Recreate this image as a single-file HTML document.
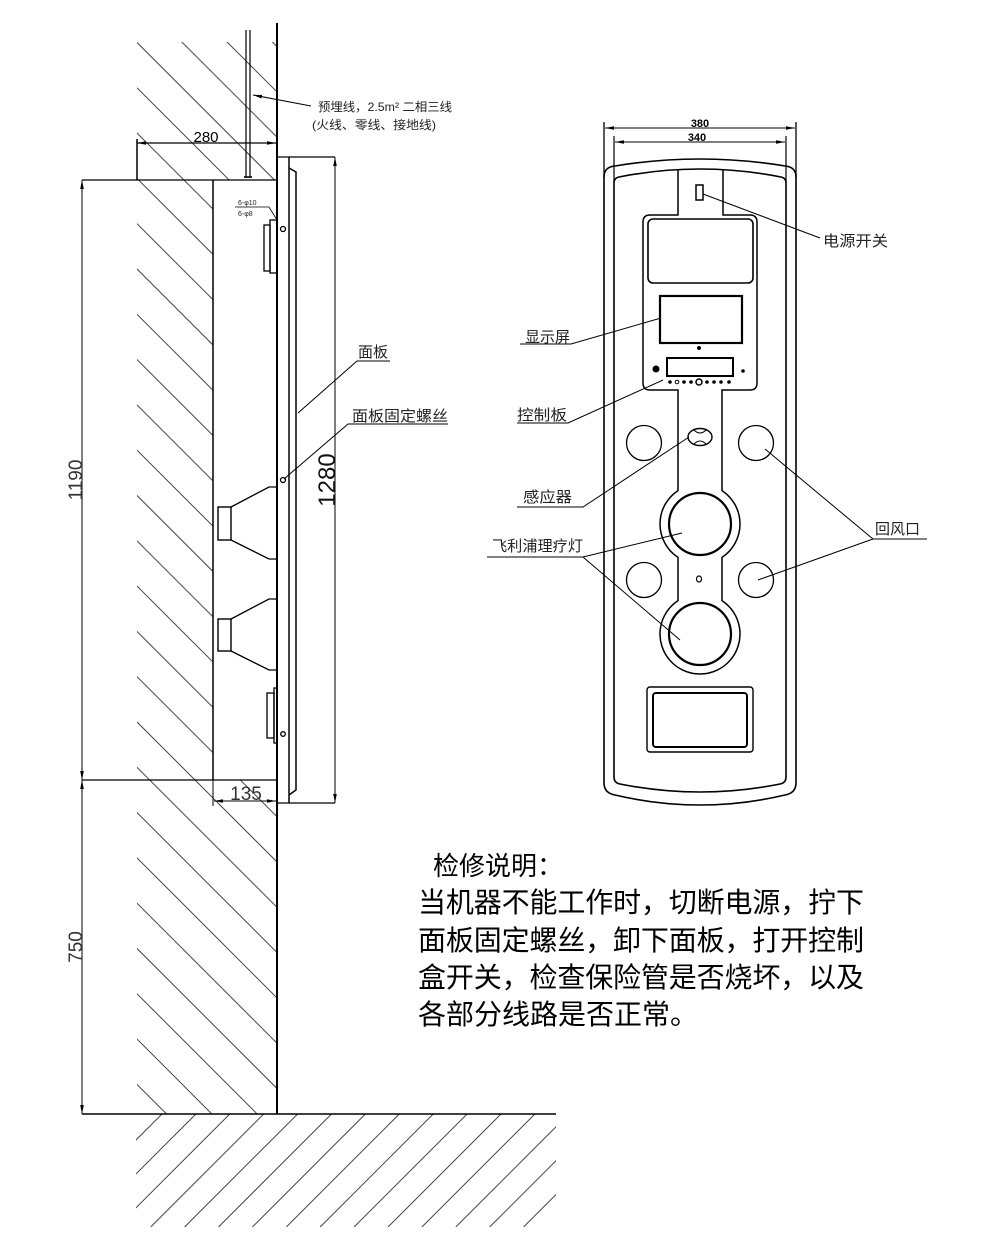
<!DOCTYPE html>
<html><head><meta charset="utf-8"><style>
html,body{margin:0;padding:0;background:#fff;width:1000px;height:1250px;overflow:hidden;}
svg{display:block;}
.cjk{font-family:"Liberation Sans","Noto Sans CJK SC",sans-serif;}
.num{font-family:"Liberation Sans",sans-serif;}
</style></head><body>
<svg width="1000" height="1250" viewBox="0 0 1000 1250" xmlns="http://www.w3.org/2000/svg" overflow="hidden">
<defs>
<marker id="ar" viewBox="0 0 10 4" refX="10" refY="2" markerWidth="9" markerHeight="3.6" markerUnits="userSpaceOnUse" orient="auto-start-reverse"><path d="M0,0 L10,2 L0,4z" fill="#000"/></marker>
<clipPath id="cw"><path d="M137,42 H277 V180 H213 V780 H277 V1114 H137 Z"/></clipPath>
<clipPath id="cf"><rect x="136" y="1114" width="420" height="113"/></clipPath>
</defs>
<rect width="1000" height="1250" fill="#fff"/>

<!-- wall hatch -->
<g clip-path="url(#cw)" stroke="#444" stroke-width="1">
<line x1="260" y1="29.6" x2="280" y2="49.6"/>
<line x1="220" y1="34.9" x2="280" y2="94.9"/>
<line x1="175" y1="35.2" x2="280" y2="140.2"/>
<line x1="130" y1="35.5" x2="280" y2="185.5"/>
<line x1="130" y1="80.8" x2="280" y2="230.8"/>
<line x1="130" y1="126.1" x2="280" y2="276.1"/>
<line x1="130" y1="171.4" x2="280" y2="321.4"/>
<line x1="130" y1="216.7" x2="280" y2="366.7"/>
<line x1="130" y1="262" x2="280" y2="412"/>
<line x1="130" y1="307.3" x2="280" y2="457.3"/>
<line x1="130" y1="352.6" x2="280" y2="502.6"/>
<line x1="130" y1="397.9" x2="280" y2="547.9"/>
<line x1="130" y1="443.2" x2="280" y2="593.2"/>
<line x1="130" y1="488.5" x2="280" y2="638.5"/>
<line x1="130" y1="533.8" x2="280" y2="683.8"/>
<line x1="130" y1="579.1" x2="280" y2="729.1"/>
<line x1="130" y1="624.4" x2="280" y2="774.4"/>
<line x1="130" y1="669.7" x2="280" y2="819.7"/>
<line x1="130" y1="715" x2="280" y2="865"/>
<line x1="130" y1="760.3" x2="280" y2="910.3"/>
<line x1="130" y1="805.6" x2="280" y2="955.6"/>
<line x1="130" y1="850.9" x2="280" y2="1000.9"/>
<line x1="130" y1="896.2" x2="280" y2="1046.2"/>
<line x1="130" y1="941.5" x2="280" y2="1091.5"/>
<line x1="130" y1="986.8" x2="257" y2="1113.8"/>
<line x1="130" y1="1032.1" x2="212" y2="1114.1"/>
<line x1="130" y1="1077.4" x2="167" y2="1114.4"/>
</g>

<!-- floor hatch -->
<g clip-path="url(#cf)" stroke="#444" stroke-width="1">
<line x1="49" y1="1227" x2="162" y2="1114"/>
<line x1="82.9" y1="1227" x2="195.9" y2="1114"/>
<line x1="116.8" y1="1227" x2="229.8" y2="1114"/>
<line x1="150.7" y1="1227" x2="263.7" y2="1114"/>
<line x1="184.6" y1="1227" x2="297.6" y2="1114"/>
<line x1="218.5" y1="1227" x2="331.5" y2="1114"/>
<line x1="252.4" y1="1227" x2="365.4" y2="1114"/>
<line x1="286.3" y1="1227" x2="399.3" y2="1114"/>
<line x1="320.2" y1="1227" x2="433.2" y2="1114"/>
<line x1="354.1" y1="1227" x2="467.1" y2="1114"/>
<line x1="388" y1="1227" x2="501" y2="1114"/>
<line x1="421.9" y1="1227" x2="534.9" y2="1114"/>
<line x1="455.8" y1="1227" x2="568.8" y2="1114"/>
<line x1="489.7" y1="1227" x2="602.7" y2="1114"/>
<line x1="523.6" y1="1227" x2="636.6" y2="1114"/>
</g>

<g stroke="#000" fill="none">
<!-- wall and floor -->
<line x1="277" y1="23" x2="277" y2="1114" stroke-width="2"/>
<line x1="82" y1="1114" x2="556" y2="1114" stroke-width="1.5"/>
<!-- cable -->
<line x1="246" y1="30" x2="246" y2="178" stroke-width="1.2"/>
<line x1="250" y1="30" x2="250" y2="178" stroke-width="1.2"/>
<line x1="244" y1="177" x2="252" y2="177" stroke-width="1.5"/>
<!-- cable leader -->
<line x1="311" y1="106" x2="253" y2="95" stroke-width="1" marker-end="url(#ar)"/>
<!-- 280 dim -->
<line x1="137" y1="143" x2="276" y2="143" stroke-width="1.2" marker-start="url(#ar)" marker-end="url(#ar)"/>
<line x1="137" y1="139" x2="137" y2="180" stroke-width="1.5"/>
<!-- box -->
<line x1="82" y1="180" x2="277" y2="180" stroke-width="1.2"/>
<line x1="213" y1="180" x2="213" y2="780" stroke-width="1.5"/>
<line x1="82" y1="780" x2="277" y2="780" stroke-width="1.2"/>
<!-- 1190 / 750 dims -->
<line x1="82" y1="180" x2="82" y2="780" stroke-width="1" marker-start="url(#ar)" marker-end="url(#ar)"/>
<line x1="82" y1="780" x2="82" y2="1114" stroke-width="1" marker-start="url(#ar)" marker-end="url(#ar)"/>
<!-- 135 dim -->
<line x1="213" y1="780" x2="213" y2="806" stroke-width="1"/>
<line x1="214" y1="801" x2="276" y2="801" stroke-width="1" marker-start="url(#ar)" marker-end="url(#ar)"/>
<!-- panel side -->
<line x1="277" y1="157" x2="335" y2="157" stroke-width="1.2"/>
<line x1="277" y1="803" x2="335" y2="803" stroke-width="1.2"/>
<line x1="289" y1="157" x2="289" y2="803" stroke-width="1.5"/>
<path d="M289,168 L296,172 L296,790 L289,795" stroke-width="1.5"/>
<line x1="335" y1="157" x2="335" y2="803" stroke-width="1" marker-start="url(#ar)" marker-end="url(#ar)"/>
<!-- fixtures -->
<rect x="264" y="225" width="6" height="46" stroke-width="1.3"/>
<rect x="270" y="220" width="7" height="53" stroke-width="1.3"/>
<rect x="267" y="693" width="7" height="45" stroke-width="1.3"/>
<rect x="274" y="688" width="3" height="55" stroke-width="1.3"/>
<circle cx="283" cy="229" r="2.5" stroke-width="1.3"/>
<circle cx="283" cy="480" r="2.5" stroke-width="1.3"/>
<circle cx="283" cy="734" r="2.3" stroke-width="1.3"/>
<!-- lamps side -->
<rect x="218" y="507" width="13" height="33" stroke-width="1.4"/>
<path d="M231,507 L269,487 L277,487 M231,540 L269,559 L277,559" stroke-width="1.3"/>
<rect x="218" y="619" width="13" height="32" stroke-width="1.4"/>
<path d="M231,619 L269,599 L277,599 M231,651 L269,670 L277,670" stroke-width="1.3"/>
<!-- 6-phi leader -->
<path d="M235,207 L269,207 L277,220" stroke-width="0.8"/>
<!-- side leaders -->
<path d="M390,361 L357,361 L298,413" stroke-width="1"/>
<path d="M448,424 L348,424 L284,479" stroke-width="1"/>

<!-- FRONT PANEL -->
<line x1="604" y1="122" x2="604" y2="178" stroke-width="1.3"/>
<line x1="796" y1="122" x2="796" y2="178" stroke-width="1.3"/>
<line x1="614" y1="136" x2="614" y2="183" stroke-width="1.2"/>
<line x1="786" y1="136" x2="786" y2="183" stroke-width="1.2"/>
<line x1="605" y1="128" x2="795" y2="128" stroke-width="1" marker-start="url(#ar)" marker-end="url(#ar)"/>
<line x1="615" y1="142" x2="785" y2="142" stroke-width="1" marker-start="url(#ar)" marker-end="url(#ar)"/>
<path d="M604,177 Q604,167 615,166 Q700,152 785,166 Q796,167 796,177 L796,783 Q796,793 785,795 Q700,815 615,795 Q604,793 604,783 Z" stroke-width="1.6"/>
<path d="M614,183 Q614,178 619,177 Q700,161 781,177 Q786,178 786,183 L786,777 Q786,783 780,784 Q700,800 620,784 Q614,783 614,777 Z" stroke-width="1.6"/>
<path d="M678,170 L678,215 L650,215 Q643,215 643,222 L643,383 Q643,390 650,390 L678,390 L678,490.6 A40,40 0 0,0 678,557.4 L678,600.6 A40,40 0 1,0 722,600.6 L722,557.4 A40,40 0 0,0 722,490.6 L722,390 L750,390 Q757,390 757,383 L757,222 Q757,215 750,215 L723,215 L723,170" stroke-width="1.5"/>
<rect x="696" y="185" width="7" height="15" stroke-width="1.5"/>
<rect x="648" y="219" width="105" height="64" rx="5" stroke-width="1.6"/>
<rect x="660" y="296" width="82" height="47" stroke-width="2.2"/>
<rect x="667" y="358" width="66" height="18" stroke-width="2"/>
<circle cx="700" cy="524" r="31" stroke-width="2.2"/>
<circle cx="700" cy="634" r="31" stroke-width="2.2"/>
<circle cx="644" cy="443" r="17.5" stroke-width="1.3"/>
<circle cx="756" cy="443" r="17.5" stroke-width="1.3"/>
<circle cx="644" cy="580" r="17.5" stroke-width="1.3"/>
<circle cx="756" cy="580" r="17.5" stroke-width="1.3"/>
<ellipse cx="700" cy="437" rx="12" ry="8.5" stroke-width="1.4"/>
<path d="M694,430 Q700,436 706,430 M694,444 Q700,438 706,444" stroke-width="1"/>
<ellipse cx="699" cy="579" rx="2.5" ry="3" stroke-width="1.2"/>
<rect x="647" y="687" width="106" height="65" rx="3" stroke-width="1.4"/>
<rect x="653" y="693" width="94" height="54" rx="3" stroke-width="2"/>
<circle cx="699" cy="382" r="3" stroke-width="1.5"/>
<circle cx="677" cy="382" r="1.8" stroke-width="1"/>
<!-- front leaders -->
<line x1="703" y1="194" x2="820" y2="238" stroke-width="1"/>
<path d="M520,344 L571,344 L661,318" stroke-width="1"/>
<path d="M517,423 L568,423 L663,380" stroke-width="1"/>
<path d="M517,507 L583,507 L689,437" stroke-width="1"/>
<path d="M487,557 L583,557 L682,533 M583,557 L680,640" stroke-width="1"/>
<path d="M927,539 L873,539 L765,449 M873,539 L758,580" stroke-width="1"/>
</g>

<g fill="#000">
<circle cx="699" cy="348" r="2"/>
<circle cx="656" cy="369" r="3.5"/>
<circle cx="743" cy="371" r="1.8"/>
<circle cx="670" cy="382" r="1.8"/>
<circle cx="684" cy="382" r="1.8"/>
<circle cx="691" cy="382" r="1.8"/>
<circle cx="707" cy="382" r="1.8"/>
<circle cx="714" cy="382" r="1.8"/>
<circle cx="721" cy="382" r="1.8"/>
<circle cx="729" cy="382" r="1.8"/>
</g>

<!-- dimension text -->
<g class="num">
<text x="206" y="142" font-size="15" text-anchor="middle" fill="#000">280</text>
<text x="700" y="127" font-size="11" text-anchor="middle" fill="#000" font-weight="bold">380</text>
<text x="697" y="141" font-size="11" text-anchor="middle" fill="#000" font-weight="bold">340</text>
<text x="246" y="800" font-size="19" text-anchor="middle" fill="#333">135</text>
<text transform="translate(82,480) rotate(-90)" font-size="19" text-anchor="middle" fill="#333">1190</text>
<text transform="translate(82,947) rotate(-90)" font-size="19" text-anchor="middle" fill="#333">750</text>
<text transform="translate(335,480) rotate(-90)" font-size="24" text-anchor="middle" fill="#111">1280</text>
<text x="238" y="205" font-size="7" fill="#222">6-φ10</text>
<text x="238" y="216" font-size="7" fill="#222">6-φ8</text>
</g>

<!-- labels -->
<g class="cjk" fill="#222">
<text x="318" y="111" font-size="12" textLength="134" lengthAdjust="spacingAndGlyphs">预埋线，2.5m² 二相三线</text>
<text x="312" y="129" font-size="12" textLength="124" lengthAdjust="spacingAndGlyphs">(火线、零线、接地线)</text>
<text x="358" y="357" font-size="15" textLength="30" lengthAdjust="spacingAndGlyphs">面板</text>
<text x="352" y="421" font-size="15" textLength="96" lengthAdjust="spacingAndGlyphs">面板固定螺丝</text>
<text x="823" y="246" font-size="15" textLength="65" lengthAdjust="spacingAndGlyphs">电源开关</text>
<text x="525" y="342" font-size="15" textLength="45" lengthAdjust="spacingAndGlyphs">显示屏</text>
<text x="517" y="420" font-size="15" textLength="50" lengthAdjust="spacingAndGlyphs">控制板</text>
<text x="523" y="502" font-size="15" textLength="49" lengthAdjust="spacingAndGlyphs">感应器</text>
<text x="492" y="551" font-size="15" textLength="91" lengthAdjust="spacingAndGlyphs">飞利浦理疗灯</text>
<text x="875" y="534" font-size="15" textLength="45" lengthAdjust="spacingAndGlyphs">回风口</text>
</g>

<!-- notes -->
<g class="cjk" fill="#000">
<text x="433" y="875" font-size="26">检修说明：</text>
<text x="418" y="912" font-size="28" textLength="446" lengthAdjust="spacing">当机器不能工作时，切断电源，拧下</text>
<text x="418" y="950" font-size="28" textLength="446" lengthAdjust="spacing">面板固定螺丝，卸下面板，打开控制</text>
<text x="418" y="987" font-size="28" textLength="446" lengthAdjust="spacing">盒开关，检查保险管是否烧坏，以及</text>
<text x="418" y="1024" font-size="28">各部分线路是否正常。</text>
</g>
</svg>
</body></html>
